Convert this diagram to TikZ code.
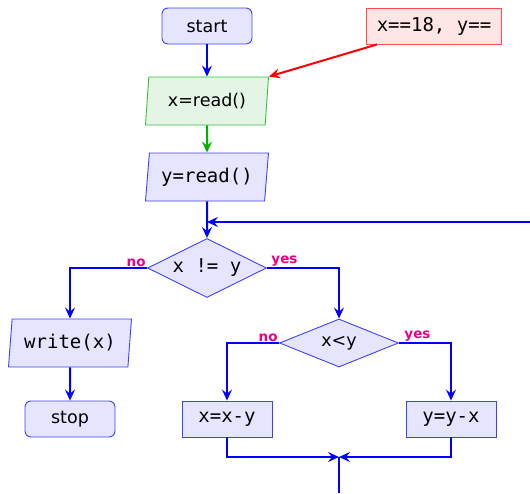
\documentclass[tikz,border=0pt]{standalone}
\usepackage{fontspec}
\setmainfont{DejaVu Sans}
\setmonofont{DejaVu Sans Mono}
\usetikzlibrary{shapes.geometric,arrows.meta}

\begin{document}
\begin{tikzpicture}[x=1pt,y=-1pt,
    base/.style={draw=blue!75,fill=blue!10,line width=0.9pt,font=\fontsize{17.5}{20}\selectfont},
    term/.style={base,rounded corners=6pt,minimum width=90pt,minimum height=36pt},
    proc/.style={base,rectangle,minimum width=90pt,minimum height=36pt,font=\fontsize{19}{20}\ttfamily},
    io/.style={base,trapezium,trapezium left angle=78,trapezium right angle=102,
      trapezium stretches body,inner sep=0pt,minimum width=123pt,minimum height=48pt},
    test/.style={base,diamond,aspect=2.5,inner sep=0pt,minimum width=119pt,font=\fontsize{19}{20}\ttfamily},
    arr/.style={-{Stealth[length=11pt,width=10pt,inset=4pt]},line width=2pt,blue},
    lab/.style={text=magenta,font=\fontsize{13.5}{15}\selectfont\bfseries,inner sep=0.5pt}]
    \useasboundingbox (0,0) rectangle (530,493);
    \node[term] (start) at (207,26) {start};
    \node[base,rectangle,draw=red!70,fill=red!10,minimum width=135pt,minimum height=36pt,
      font=\fontsize{19}{20}\ttfamily] (input) at (434,26) {x==18, y==};
    \node[io,draw=green!70!black!80,fill=green!60!black!10] (xread) at (207,101) {x=read()};
    \node[io,font=\fontsize{19}{20}\ttfamily] (yread) at (207,177) {y=read()};
    \node[test,minimum height=59pt] (neq) at (207,268) {x != y};
    \node[io,font=\fontsize{19}{20}\ttfamily] (write) at (70,343) {write(x)};
    \node[term] (stop) at (70,419) {stop};
    \node[test,minimum height=48pt,font=\fontsize{17.5}{20}\selectfont] (lt) at (339,343) {x<y};
    \node[proc] (xmy) at (227,419) {x=x-y};
    \node[proc] (ymx) at (451,419) {y=y-x};
    \coordinate (loop) at (530,222);
    \coordinate (join) at (339,457);
    \coordinate (exit) at (339,493);
    \draw[arr] (start) -- (xread);
    \draw[arr,green!70!black] (xread) -- (yread);
    \draw[arr,red] ([xshift=11pt]input.south west) -- (xread.top right corner);
    \draw[arr] (yread) -- (neq);
    \draw[arr] (loop) -- (yread.south |- loop);
    \draw[arr] (neq.west) node[lab,above left] {no} -| (write);
    \draw[arr] (neq.east) node[lab,above right,xshift=3pt] {yes} -| (lt);
    \draw[arr] (write) -- (stop);
    \draw[arr] (lt.west) node[lab,above left] {no} -| (xmy);
    \draw[arr] (lt.east) node[lab,above right,xshift=4pt] {yes} -| (ymx);
    \draw[arr] (xmy) |- (join);
    \draw[arr] (ymx) |- (join);
    \draw[line width=2pt,blue] (join) -- (exit);
\end{tikzpicture}
\end{document}
